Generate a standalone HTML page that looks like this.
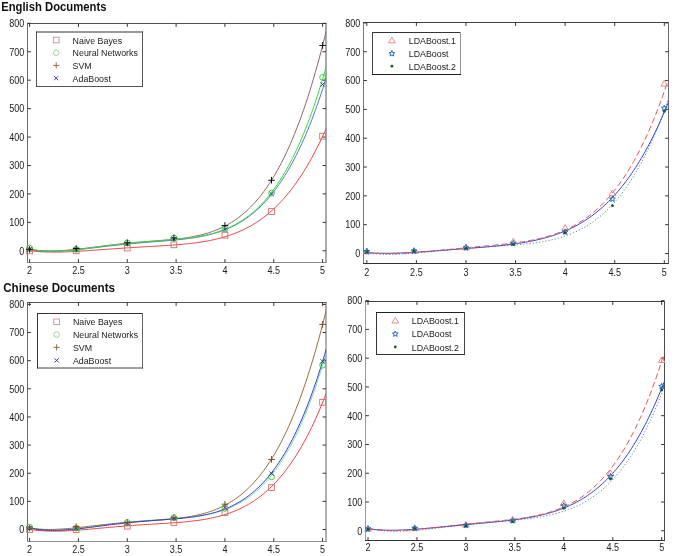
<!DOCTYPE html>
<html><head><meta charset="utf-8"><style>
html,body{margin:0;padding:0;background:#fff;}
svg{display:block;}
text{font-family:"Liberation Sans",sans-serif;}
svg{will-change:transform;}
</style></head><body>
<svg width="685" height="556" viewBox="0 0 685 556" font-family="Liberation Sans, sans-serif" font-size="10.2" fill="#222">
<defs><clipPath id="cTL"><rect x="27.5" y="23.5" width="298.5" height="239"/></clipPath><clipPath id="cTR"><rect x="363.5" y="22.5" width="305" height="241"/></clipPath><clipPath id="cBL"><rect x="27.5" y="302.5" width="298.5" height="239"/></clipPath><clipPath id="cBR"><rect x="365.5" y="301.5" width="299" height="239"/></clipPath></defs>
<rect width="685" height="556" fill="#fff"/>
<path d="M27.5 23V263" stroke="#6a6a6a" stroke-width="1"/>
<path d="M27 23.5H326.5" stroke="#505050" stroke-width="1"/>
<path d="M326 23V263" stroke="#555" stroke-width="1"/>
<path d="M27 262.5H326.5" stroke="#888" stroke-width="1"/>
<path d="M27.5 250.8h3.4M326 250.8h-3.4M27.5 222.36h3.4M326 222.36h-3.4M27.5 193.93h3.4M326 193.93h-3.4M27.5 165.49h3.4M326 165.49h-3.4M27.5 137.05h3.4M326 137.05h-3.4M27.5 108.61h3.4M326 108.61h-3.4M27.5 80.18h3.4M326 80.18h-3.4M27.5 51.74h3.4M326 51.74h-3.4M27.5 23.3h3.4M326 23.3h-3.4M29.6 262.5v-3.4M29.6 23.5v3.4M78.43 262.5v-3.4M78.43 23.5v3.4M127.27 262.5v-3.4M127.27 23.5v3.4M176.1 262.5v-3.4M176.1 23.5v3.4M224.93 262.5v-3.4M224.93 23.5v3.4M273.77 262.5v-3.4M273.77 23.5v3.4M322.6 262.5v-3.4M322.6 23.5v3.4" stroke="#333" stroke-width="1" fill="none"/>
<text transform="translate(24.2 254.6) scale(0.885 1)" font-size="10.2" text-anchor="end">0</text>
<text transform="translate(24.2 226.16) scale(0.885 1)" font-size="10.2" text-anchor="end">100</text>
<text transform="translate(24.2 197.73) scale(0.885 1)" font-size="10.2" text-anchor="end">200</text>
<text transform="translate(24.2 169.29) scale(0.885 1)" font-size="10.2" text-anchor="end">300</text>
<text transform="translate(24.2 140.85) scale(0.885 1)" font-size="10.2" text-anchor="end">400</text>
<text transform="translate(24.2 112.41) scale(0.885 1)" font-size="10.2" text-anchor="end">500</text>
<text transform="translate(24.2 83.98) scale(0.885 1)" font-size="10.2" text-anchor="end">600</text>
<text transform="translate(24.2 55.54) scale(0.885 1)" font-size="10.2" text-anchor="end">700</text>
<text transform="translate(24.2 27.1) scale(0.885 1)" font-size="10.2" text-anchor="end">800</text>
<text transform="translate(29.6 273.6) scale(0.885 1)" font-size="10.2" text-anchor="middle">2</text>
<text transform="translate(78.43 273.6) scale(0.885 1)" font-size="10.2" text-anchor="middle">2.5</text>
<text transform="translate(127.27 273.6) scale(0.885 1)" font-size="10.2" text-anchor="middle">3</text>
<text transform="translate(176.1 273.6) scale(0.885 1)" font-size="10.2" text-anchor="middle">3.5</text>
<text transform="translate(224.93 273.6) scale(0.885 1)" font-size="10.2" text-anchor="middle">4</text>
<text transform="translate(273.77 273.6) scale(0.885 1)" font-size="10.2" text-anchor="middle">4.5</text>
<text transform="translate(322.6 273.6) scale(0.885 1)" font-size="10.2" text-anchor="middle">5</text>
<polyline points="29.6,250.67 31.5,250.91 33.41,251.12 35.31,251.31 37.22,251.47 39.12,251.62 41.03,251.74 42.93,251.84 44.83,251.93 46.74,251.99 48.64,252.04 50.55,252.08 52.45,252.1 54.35,252.1 56.26,252.09 58.16,252.07 60.07,252.04 61.97,251.99 63.88,251.94 65.78,251.87 67.68,251.8 69.59,251.72 71.49,251.63 73.4,251.53 75.3,251.43 77.2,251.32 79.11,251.21 81.01,251.09 82.92,250.97 84.82,250.84 86.73,250.72 88.63,250.58 90.53,250.45 92.44,250.31 94.34,250.18 96.25,250.04 98.15,249.9 100.06,249.76 101.96,249.62 103.86,249.48 105.77,249.34 107.67,249.21 109.58,249.07 111.48,248.93 113.38,248.8 115.29,248.66 117.19,248.53 119.1,248.4 121,248.27 122.91,248.15 124.81,248.02 126.71,247.9 128.62,247.78 130.52,247.65 132.43,247.54 134.33,247.42 136.23,247.3 138.14,247.19 140.04,247.08 141.95,246.96 143.85,246.85 145.76,246.74 147.66,246.63 149.56,246.52 151.47,246.41 153.37,246.3 155.28,246.19 157.18,246.08 159.09,245.96 160.99,245.85 162.89,245.73 164.8,245.61 166.7,245.49 168.61,245.36 170.51,245.23 172.41,245.09 174.32,244.95 176.22,244.8 178.13,244.65 180.03,244.48 181.94,244.32 183.84,244.14 185.74,243.95 187.65,243.76 189.55,243.55 191.46,243.33 193.36,243.1 195.26,242.86 197.17,242.61 199.07,242.34 200.98,242.05 202.88,241.75 204.79,241.43 206.69,241.1 208.59,240.74 210.5,240.37 212.4,239.97 214.31,239.55 216.21,239.11 218.12,238.65 220.02,238.16 221.92,237.65 223.83,237.1 225.73,236.53 227.64,235.93 229.54,235.3 231.44,234.64 233.35,233.94 235.25,233.21 237.16,232.44 239.06,231.64 240.97,230.79 242.87,229.91 244.77,228.99 246.68,228.02 248.58,227.01 250.49,225.96 252.39,224.86 254.29,223.71 256.2,222.51 258.1,221.26 260.01,219.95 261.91,218.59 263.82,217.18 265.72,215.71 267.62,214.18 269.53,212.58 271.43,210.93 273.34,209.21 275.24,207.42 277.15,205.57 279.05,203.65 280.95,201.65 282.86,199.59 284.76,197.44 286.67,195.23 288.57,192.93 290.47,190.55 292.38,188.09 294.28,185.54 296.19,182.91 298.09,180.19 300,177.38 301.9,174.47 303.8,171.48 305.71,168.38 307.61,165.19 309.52,161.89 311.42,158.5 313.32,154.99 315.23,151.38 317.13,147.66 319.04,143.83 320.94,139.88 322.85,135.82 324.75,131.64 326.65,127.34 328.56,122.91 330.46,118.36 332.37,113.68" fill="none" stroke="#e44444" stroke-width="1" clip-path="url(#cTL)"/>
<polyline points="29.6,249.33 31.5,249.66 33.41,249.95 35.31,250.21 37.22,250.42 39.12,250.6 41.03,250.75 42.93,250.87 44.83,250.95 46.74,251.01 48.64,251.04 50.55,251.04 52.45,251.02 54.35,250.98 56.26,250.91 58.16,250.83 60.07,250.73 61.97,250.61 63.88,250.47 65.78,250.33 67.68,250.16 69.59,249.99 71.49,249.81 73.4,249.61 75.3,249.41 77.2,249.2 79.11,248.98 81.01,248.76 82.92,248.53 84.82,248.3 86.73,248.06 88.63,247.82 90.53,247.58 92.44,247.34 94.34,247.1 96.25,246.86 98.15,246.62 100.06,246.38 101.96,246.15 103.86,245.91 105.77,245.68 107.67,245.45 109.58,245.22 111.48,245 113.38,244.79 115.29,244.57 117.19,244.36 119.1,244.16 121,243.96 122.91,243.76 124.81,243.57 126.71,243.39 128.62,243.2 130.52,243.03 132.43,242.85 134.33,242.68 136.23,242.52 138.14,242.36 140.04,242.2 141.95,242.04 143.85,241.89 145.76,241.74 147.66,241.59 149.56,241.44 151.47,241.3 153.37,241.15 155.28,241 157.18,240.85 159.09,240.7 160.99,240.55 162.89,240.39 164.8,240.23 166.7,240.06 168.61,239.89 170.51,239.71 172.41,239.52 174.32,239.32 176.22,239.11 178.13,238.89 180.03,238.66 181.94,238.42 183.84,238.16 185.74,237.88 187.65,237.59 189.55,237.27 191.46,236.94 193.36,236.59 195.26,236.21 197.17,235.81 199.07,235.38 200.98,234.92 202.88,234.44 204.79,233.92 206.69,233.37 208.59,232.79 210.5,232.17 212.4,231.51 214.31,230.81 216.21,230.07 218.12,229.29 220.02,228.46 221.92,227.58 223.83,226.65 225.73,225.67 227.64,224.64 229.54,223.55 231.44,222.4 233.35,221.19 235.25,219.92 237.16,218.58 239.06,217.17 240.97,215.69 242.87,214.14 244.77,212.52 246.68,210.81 248.58,209.03 250.49,207.16 252.39,205.21 254.29,203.17 256.2,201.04 258.1,198.81 260.01,196.49 261.91,194.06 263.82,191.54 265.72,188.91 267.62,186.17 269.53,183.31 271.43,180.35 273.34,177.26 275.24,174.06 277.15,170.73 279.05,167.27 280.95,163.68 282.86,159.96 284.76,156.1 286.67,152.1 288.57,147.95 290.47,143.66 292.38,139.22 294.28,134.62 296.19,129.87 298.09,124.95 300,119.86 301.9,114.61 303.8,109.18 305.71,103.58 307.61,97.8 309.52,91.83 311.42,85.67 313.32,79.32 315.23,72.77 317.13,66.03 319.04,59.08 320.94,51.92 322.85,44.54 324.75,36.95 326.65,29.14 328.56,21.11 330.46,12.84 332.37,4.34" fill="none" stroke="#986262" stroke-width="1" clip-path="url(#cTL)"/>
<polyline points="29.6,249.35 31.5,249.68 33.41,249.98 35.31,250.24 37.22,250.46 39.12,250.65 41.03,250.81 42.93,250.94 44.83,251.04 46.74,251.11 48.64,251.16 50.55,251.18 52.45,251.18 54.35,251.16 56.26,251.12 58.16,251.06 60.07,250.99 61.97,250.89 63.88,250.78 65.78,250.66 67.68,250.52 69.59,250.37 71.49,250.21 73.4,250.04 75.3,249.87 77.2,249.68 79.11,249.48 81.01,249.28 82.92,249.07 84.82,248.86 86.73,248.65 88.63,248.43 90.53,248.2 92.44,247.98 94.34,247.75 96.25,247.52 98.15,247.3 100.06,247.07 101.96,246.84 103.86,246.62 105.77,246.39 107.67,246.17 109.58,245.95 111.48,245.73 113.38,245.52 115.29,245.31 117.19,245.1 119.1,244.9 121,244.69 122.91,244.5 124.81,244.3 126.71,244.11 128.62,243.93 130.52,243.75 132.43,243.57 134.33,243.39 136.23,243.22 138.14,243.06 140.04,242.89 141.95,242.73 143.85,242.57 145.76,242.42 147.66,242.26 149.56,242.11 151.47,241.96 153.37,241.81 155.28,241.67 157.18,241.52 159.09,241.37 160.99,241.22 162.89,241.07 164.8,240.92 166.7,240.76 168.61,240.6 170.51,240.44 172.41,240.27 174.32,240.1 176.22,239.91 178.13,239.73 180.03,239.53 181.94,239.32 183.84,239.11 185.74,238.88 187.65,238.64 189.55,238.39 191.46,238.12 193.36,237.84 195.26,237.54 197.17,237.22 199.07,236.89 200.98,236.53 202.88,236.15 204.79,235.75 206.69,235.33 208.59,234.88 210.5,234.4 212.4,233.9 214.31,233.36 216.21,232.79 218.12,232.19 220.02,231.56 221.92,230.89 223.83,230.18 225.73,229.43 227.64,228.64 229.54,227.8 231.44,226.93 233.35,226 235.25,225.03 237.16,224 239.06,222.93 240.97,221.8 242.87,220.61 244.77,219.36 246.68,218.06 248.58,216.69 250.49,215.25 252.39,213.75 254.29,212.19 256.2,210.55 258.1,208.83 260.01,207.04 261.91,205.18 263.82,203.23 265.72,201.2 267.62,199.08 269.53,196.88 271.43,194.58 273.34,192.2 275.24,189.72 277.15,187.14 279.05,184.46 280.95,181.67 282.86,178.78 284.76,175.78 286.67,172.68 288.57,169.45 290.47,166.11 292.38,162.65 294.28,159.07 296.19,155.36 298.09,151.52 300,147.55 301.9,143.45 303.8,139.21 305.71,134.83 307.61,130.3 309.52,125.63 311.42,120.81 313.32,115.83 315.23,110.7 317.13,105.4 319.04,99.95 320.94,94.32 322.85,88.53 324.75,82.56 326.65,76.42 328.56,70.09 330.46,63.58 332.37,56.89" fill="none" stroke="#4c7cbc" stroke-width="1" clip-path="url(#cTL)"/>
<polyline points="29.6,249.01 31.5,249.4 33.41,249.75 35.31,250.06 37.22,250.32 39.12,250.55 41.03,250.74 42.93,250.9 44.83,251.02 46.74,251.12 48.64,251.18 50.55,251.21 52.45,251.22 54.35,251.21 56.26,251.17 58.16,251.11 60.07,251.02 61.97,250.92 63.88,250.8 65.78,250.67 67.68,250.52 69.59,250.35 71.49,250.17 73.4,249.98 75.3,249.78 77.2,249.57 79.11,249.35 81.01,249.13 82.92,248.89 84.82,248.66 86.73,248.41 88.63,248.17 90.53,247.92 92.44,247.66 94.34,247.41 96.25,247.16 98.15,246.9 100.06,246.65 101.96,246.39 103.86,246.14 105.77,245.89 107.67,245.64 109.58,245.4 111.48,245.15 113.38,244.92 115.29,244.68 117.19,244.45 119.1,244.23 121,244.01 122.91,243.79 124.81,243.58 126.71,243.38 128.62,243.18 130.52,242.98 132.43,242.79 134.33,242.6 136.23,242.42 138.14,242.25 140.04,242.08 141.95,241.91 143.85,241.75 145.76,241.59 147.66,241.44 149.56,241.29 151.47,241.14 153.37,240.99 155.28,240.85 157.18,240.7 159.09,240.56 160.99,240.42 162.89,240.28 164.8,240.13 166.7,239.99 168.61,239.84 170.51,239.69 172.41,239.53 174.32,239.37 176.22,239.21 178.13,239.03 180.03,238.85 181.94,238.66 183.84,238.46 185.74,238.25 187.65,238.03 189.55,237.8 191.46,237.55 193.36,237.28 195.26,237 197.17,236.7 199.07,236.38 200.98,236.04 202.88,235.67 204.79,235.29 206.69,234.87 208.59,234.43 210.5,233.97 212.4,233.47 214.31,232.94 216.21,232.38 218.12,231.78 220.02,231.14 221.92,230.47 223.83,229.76 225.73,229 227.64,228.2 229.54,227.35 231.44,226.46 233.35,225.51 235.25,224.51 237.16,223.46 239.06,222.35 240.97,221.19 242.87,219.96 244.77,218.67 246.68,217.31 248.58,215.88 250.49,214.39 252.39,212.82 254.29,211.18 256.2,209.46 258.1,207.65 260.01,205.77 261.91,203.8 263.82,201.75 265.72,199.6 267.62,197.36 269.53,195.02 271.43,192.59 273.34,190.05 275.24,187.41 277.15,184.66 279.05,181.8 280.95,178.83 282.86,175.74 284.76,172.54 286.67,169.2 288.57,165.75 290.47,162.16 292.38,158.45 294.28,154.6 296.19,150.61 298.09,146.48 300,142.2 301.9,137.77 303.8,133.2 305.71,128.46 307.61,123.57 309.52,118.52 311.42,113.3 313.32,107.91 315.23,102.35 317.13,96.61 319.04,90.69 320.94,84.58 322.85,78.29 324.75,71.81 326.65,65.12 328.56,58.24 330.46,51.16 332.37,43.87" fill="none" stroke="#3ad83a" stroke-width="1" clip-path="url(#cTL)"/>
<rect x="26.7" y="247.9" width="5.8" height="5.8" fill="none" stroke="#d86c6c" stroke-width="0.9"/>
<rect x="73.3" y="247.9" width="5.8" height="5.8" fill="none" stroke="#d86c6c" stroke-width="0.9"/>
<rect x="124.37" y="245.06" width="5.8" height="5.8" fill="none" stroke="#d86c6c" stroke-width="0.9"/>
<rect x="170.97" y="241.93" width="5.8" height="5.8" fill="none" stroke="#d86c6c" stroke-width="0.9"/>
<rect x="222.03" y="232.26" width="5.8" height="5.8" fill="none" stroke="#d86c6c" stroke-width="0.9"/>
<rect x="268.63" y="208.66" width="5.8" height="5.8" fill="none" stroke="#d86c6c" stroke-width="0.9"/>
<rect x="319.7" y="133.3" width="5.8" height="5.8" fill="none" stroke="#d86c6c" stroke-width="0.9"/>
<path d="M27.5 247.28L31.7 251.48M27.5 251.48L31.7 247.28" stroke="#2a2ab0" stroke-width="0.9"/>
<path d="M74.1 247.28L78.3 251.48M74.1 251.48L78.3 247.28" stroke="#2a2ab0" stroke-width="0.9"/>
<path d="M125.17 241.59L129.37 245.79M125.17 245.79L129.37 241.59" stroke="#2a2ab0" stroke-width="0.9"/>
<path d="M171.77 236.76L175.97 240.96M171.77 240.96L175.97 236.76" stroke="#2a2ab0" stroke-width="0.9"/>
<path d="M222.83 227.37L227.03 231.57M222.83 231.57L227.03 227.37" stroke="#2a2ab0" stroke-width="0.9"/>
<path d="M269.43 191.83L273.63 196.03M269.43 196.03L273.63 191.83" stroke="#2a2ab0" stroke-width="0.9"/>
<path d="M320.5 82.34L324.7 86.54M320.5 86.54L324.7 82.34" stroke="#2a2ab0" stroke-width="0.9"/>
<circle cx="29.6" cy="247.96" r="2.9" fill="none" stroke="#2ec82e" stroke-width="0.9"/>
<circle cx="76.2" cy="249.38" r="2.9" fill="none" stroke="#2ec82e" stroke-width="0.9"/>
<circle cx="127.27" cy="242.84" r="2.9" fill="none" stroke="#2ec82e" stroke-width="0.9"/>
<circle cx="173.87" cy="238" r="2.9" fill="none" stroke="#2ec82e" stroke-width="0.9"/>
<circle cx="224.93" cy="228.62" r="2.9" fill="none" stroke="#2ec82e" stroke-width="0.9"/>
<circle cx="271.53" cy="193.07" r="2.9" fill="none" stroke="#2ec82e" stroke-width="0.9"/>
<circle cx="322.6" cy="77.33" r="2.9" fill="none" stroke="#2ec82e" stroke-width="0.9"/>
<path d="M26.3 249.38h6.6M29.6 246.08v6.6" stroke="#111" stroke-width="1.0"/>
<path d="M72.9 248.53h6.6M76.2 245.22v6.6" stroke="#111" stroke-width="1.0"/>
<path d="M123.97 242.84h6.6M127.27 239.54v6.6" stroke="#111" stroke-width="1.0"/>
<path d="M170.57 238h6.6M173.87 234.7v6.6" stroke="#111" stroke-width="1.0"/>
<path d="M221.63 225.49h6.6M224.93 222.19v6.6" stroke="#111" stroke-width="1.0"/>
<path d="M268.23 180.28h6.6M271.53 176.97v6.6" stroke="#111" stroke-width="1.0"/>
<path d="M319.3 45.48h6.6M322.6 42.18v6.6" stroke="#111" stroke-width="1.0"/>
<rect x="36.5" y="32" width="106" height="54.5" fill="#fff"/>
<path d="M36.5 31.5V87" stroke="#555" stroke-width="1"/>
<path d="M36 32H143" stroke="#333" stroke-width="1"/>
<path d="M142.5 31.5V87" stroke="#555" stroke-width="1"/>
<path d="M36 86.5H143" stroke="#555" stroke-width="1"/>
<rect x="53.4" y="37.2" width="5.6" height="5.6" fill="none" stroke="#cc8c96" stroke-width="0.9"/>
<text transform="translate(72.6 43.6) scale(0.94 1)" font-size="9.4">Naive Bayes</text>
<circle cx="56.2" cy="52.8" r="2.8" fill="none" stroke="#8fd08f" stroke-width="0.9"/>
<text transform="translate(72.6 56.4) scale(0.94 1)" font-size="9.4">Neural Networks</text>
<path d="M53.1 65.4h6.2M56.2 62.3v6.2" stroke="#8a7252" stroke-width="1.0"/>
<text transform="translate(72.6 69) scale(0.94 1)" font-size="9.4">SVM</text>
<path d="M54.2 76.2L58.2 80.2M54.2 80.2L58.2 76.2" stroke="#3434a8" stroke-width="1.0"/>
<text transform="translate(72.6 81.8) scale(0.94 1)" font-size="9.4">AdaBoost</text>
<path d="M27.5 302V542" stroke="#6a6a6a" stroke-width="1"/>
<path d="M27 302.5H326.5" stroke="#555" stroke-width="1"/>
<path d="M326 302V542" stroke="#616161" stroke-width="1"/>
<path d="M27 541.5H326.5" stroke="#909090" stroke-width="1"/>
<path d="M27.5 529.5h3.4M326 529.5h-3.4M27.5 501.36h3.4M326 501.36h-3.4M27.5 473.23h3.4M326 473.23h-3.4M27.5 445.09h3.4M326 445.09h-3.4M27.5 416.95h3.4M326 416.95h-3.4M27.5 388.81h3.4M326 388.81h-3.4M27.5 360.68h3.4M326 360.68h-3.4M27.5 332.54h3.4M326 332.54h-3.4M27.5 304.4h3.4M326 304.4h-3.4M29.6 541.5v-3.4M29.6 302.5v3.4M78.43 541.5v-3.4M78.43 302.5v3.4M127.27 541.5v-3.4M127.27 302.5v3.4M176.1 541.5v-3.4M176.1 302.5v3.4M224.93 541.5v-3.4M224.93 302.5v3.4M273.77 541.5v-3.4M273.77 302.5v3.4M322.6 541.5v-3.4M322.6 302.5v3.4" stroke="#333" stroke-width="1" fill="none"/>
<text transform="translate(24.2 533.3) scale(0.885 1)" font-size="10.2" text-anchor="end">0</text>
<text transform="translate(24.2 505.16) scale(0.885 1)" font-size="10.2" text-anchor="end">100</text>
<text transform="translate(24.2 477.03) scale(0.885 1)" font-size="10.2" text-anchor="end">200</text>
<text transform="translate(24.2 448.89) scale(0.885 1)" font-size="10.2" text-anchor="end">300</text>
<text transform="translate(24.2 420.75) scale(0.885 1)" font-size="10.2" text-anchor="end">400</text>
<text transform="translate(24.2 392.61) scale(0.885 1)" font-size="10.2" text-anchor="end">500</text>
<text transform="translate(24.2 364.48) scale(0.885 1)" font-size="10.2" text-anchor="end">600</text>
<text transform="translate(24.2 336.34) scale(0.885 1)" font-size="10.2" text-anchor="end">700</text>
<text transform="translate(24.2 308.2) scale(0.885 1)" font-size="10.2" text-anchor="end">800</text>
<text transform="translate(29.6 552.5) scale(0.885 1)" font-size="10.2" text-anchor="middle">2</text>
<text transform="translate(78.43 552.5) scale(0.885 1)" font-size="10.2" text-anchor="middle">2.5</text>
<text transform="translate(127.27 552.5) scale(0.885 1)" font-size="10.2" text-anchor="middle">3</text>
<text transform="translate(176.1 552.5) scale(0.885 1)" font-size="10.2" text-anchor="middle">3.5</text>
<text transform="translate(224.93 552.5) scale(0.885 1)" font-size="10.2" text-anchor="middle">4</text>
<text transform="translate(273.77 552.5) scale(0.885 1)" font-size="10.2" text-anchor="middle">4.5</text>
<text transform="translate(322.6 552.5) scale(0.885 1)" font-size="10.2" text-anchor="middle">5</text>
<polyline points="29.6,527.64 31.5,528.1 33.41,528.51 35.31,528.87 37.22,529.19 39.12,529.46 41.03,529.7 42.93,529.9 44.83,530.06 46.74,530.19 48.64,530.29 50.55,530.35 52.45,530.39 54.35,530.4 56.26,530.38 58.16,530.33 60.07,530.27 61.97,530.18 63.88,530.07 65.78,529.95 67.68,529.8 69.59,529.64 71.49,529.47 73.4,529.28 75.3,529.08 77.2,528.87 79.11,528.65 81.01,528.42 82.92,528.19 84.82,527.94 86.73,527.69 88.63,527.44 90.53,527.18 92.44,526.92 94.34,526.65 96.25,526.39 98.15,526.12 100.06,525.86 101.96,525.59 103.86,525.33 105.77,525.06 107.67,524.8 109.58,524.55 111.48,524.29 113.38,524.04 115.29,523.8 117.19,523.56 119.1,523.32 121,523.09 122.91,522.86 124.81,522.64 126.71,522.43 128.62,522.22 130.52,522.01 132.43,521.82 134.33,521.63 136.23,521.44 138.14,521.26 140.04,521.09 141.95,520.92 143.85,520.75 145.76,520.59 147.66,520.44 149.56,520.29 151.47,520.15 153.37,520 155.28,519.87 157.18,519.73 159.09,519.6 160.99,519.46 162.89,519.33 164.8,519.2 166.7,519.07 168.61,518.94 170.51,518.81 172.41,518.67 174.32,518.53 176.22,518.39 178.13,518.24 180.03,518.09 181.94,517.93 183.84,517.76 185.74,517.58 187.65,517.4 189.55,517.2 191.46,516.98 193.36,516.76 195.26,516.52 197.17,516.26 199.07,515.99 200.98,515.69 202.88,515.38 204.79,515.05 206.69,514.69 208.59,514.3 210.5,513.89 212.4,513.46 214.31,512.99 216.21,512.49 218.12,511.96 220.02,511.39 221.92,510.79 223.83,510.14 225.73,509.46 227.64,508.74 229.54,507.97 231.44,507.15 233.35,506.29 235.25,505.37 237.16,504.41 239.06,503.39 240.97,502.31 242.87,501.17 244.77,499.97 246.68,498.71 248.58,497.38 250.49,495.98 252.39,494.52 254.29,492.97 256.2,491.36 258.1,489.66 260.01,487.89 261.91,486.03 263.82,484.08 265.72,482.04 267.62,479.92 269.53,477.69 271.43,475.37 273.34,472.95 275.24,470.43 277.15,467.8 279.05,465.07 280.95,462.22 282.86,459.25 284.76,456.17 286.67,452.96 288.57,449.63 290.47,446.18 292.38,442.59 294.28,438.86 296.19,435 298.09,431 300,426.86 301.9,422.56 303.8,418.12 305.71,413.52 307.61,408.76 309.52,403.84 311.42,398.75 313.32,393.5 315.23,388.07 317.13,382.46 319.04,376.68 320.94,370.71 322.85,364.55 324.75,358.2 326.65,351.65 328.56,344.9 330.46,337.95 332.37,330.78" fill="none" stroke="#80e0b8" stroke-width="1" clip-path="url(#cBL)"/>
<polyline points="29.6,529.32 31.5,529.62 33.41,529.9 35.31,530.14 37.22,530.35 39.12,530.54 41.03,530.7 42.93,530.83 44.83,530.94 46.74,531.03 48.64,531.09 50.55,531.14 52.45,531.16 54.35,531.17 56.26,531.16 58.16,531.13 60.07,531.09 61.97,531.04 63.88,530.97 65.78,530.89 67.68,530.79 69.59,530.69 71.49,530.58 73.4,530.46 75.3,530.33 77.2,530.19 79.11,530.04 81.01,529.89 82.92,529.74 84.82,529.58 86.73,529.42 88.63,529.25 90.53,529.08 92.44,528.91 94.34,528.73 96.25,528.56 98.15,528.38 100.06,528.21 101.96,528.03 103.86,527.86 105.77,527.68 107.67,527.51 109.58,527.34 111.48,527.17 113.38,527 115.29,526.83 117.19,526.67 119.1,526.51 121,526.35 122.91,526.19 124.81,526.04 126.71,525.89 128.62,525.75 130.52,525.6 132.43,525.46 134.33,525.33 136.23,525.19 138.14,525.06 140.04,524.93 141.95,524.8 143.85,524.68 145.76,524.56 147.66,524.44 149.56,524.32 151.47,524.2 153.37,524.08 155.28,523.97 157.18,523.85 159.09,523.73 160.99,523.62 162.89,523.5 164.8,523.38 166.7,523.26 168.61,523.13 170.51,523 172.41,522.87 174.32,522.74 176.22,522.59 178.13,522.45 180.03,522.29 181.94,522.13 183.84,521.96 185.74,521.79 187.65,521.6 189.55,521.4 191.46,521.19 193.36,520.97 195.26,520.74 197.17,520.49 199.07,520.23 200.98,519.95 202.88,519.65 204.79,519.34 206.69,519.01 208.59,518.65 210.5,518.28 212.4,517.88 214.31,517.46 216.21,517.01 218.12,516.54 220.02,516.04 221.92,515.51 223.83,514.95 225.73,514.36 227.64,513.73 229.54,513.07 231.44,512.38 233.35,511.65 235.25,510.88 237.16,510.07 239.06,509.21 240.97,508.32 242.87,507.38 244.77,506.39 246.68,505.35 248.58,504.27 250.49,503.13 252.39,501.94 254.29,500.69 256.2,499.39 258.1,498.03 260.01,496.61 261.91,495.12 263.82,493.57 265.72,491.95 267.62,490.27 269.53,488.52 271.43,486.69 273.34,484.79 275.24,482.81 277.15,480.75 279.05,478.62 280.95,476.4 282.86,474.09 284.76,471.7 286.67,469.22 288.57,466.65 290.47,463.98 292.38,461.22 294.28,458.35 296.19,455.39 298.09,452.32 300,449.15 301.9,445.87 303.8,442.48 305.71,438.98 307.61,435.36 309.52,431.62 311.42,427.76 313.32,423.78 315.23,419.67 317.13,415.44 319.04,411.07 320.94,406.57 322.85,401.93 324.75,397.15 326.65,392.23 328.56,387.16 330.46,381.94 332.37,376.58" fill="none" stroke="#e44444" stroke-width="1" clip-path="url(#cBL)"/>
<polyline points="29.6,527.96 31.5,528.26 33.41,528.52 35.31,528.74 37.22,528.94 39.12,529.09 41.03,529.22 42.93,529.32 44.83,529.39 46.74,529.43 48.64,529.45 50.55,529.45 52.45,529.42 54.35,529.37 56.26,529.31 58.16,529.22 60.07,529.12 61.97,529.01 63.88,528.87 65.78,528.73 67.68,528.58 69.59,528.41 71.49,528.24 73.4,528.05 75.3,527.86 77.2,527.66 79.11,527.46 81.01,527.25 82.92,527.04 84.82,526.83 86.73,526.61 88.63,526.39 90.53,526.17 92.44,525.95 94.34,525.72 96.25,525.5 98.15,525.28 100.06,525.07 101.96,524.85 103.86,524.64 105.77,524.43 107.67,524.22 109.58,524.02 111.48,523.82 113.38,523.62 115.29,523.43 117.19,523.24 119.1,523.06 121,522.88 122.91,522.7 124.81,522.53 126.71,522.37 128.62,522.21 130.52,522.05 132.43,521.89 134.33,521.74 136.23,521.6 138.14,521.45 140.04,521.31 141.95,521.17 143.85,521.04 145.76,520.9 147.66,520.77 149.56,520.64 151.47,520.5 153.37,520.37 155.28,520.23 157.18,520.09 159.09,519.95 160.99,519.81 162.89,519.66 164.8,519.51 166.7,519.35 168.61,519.18 170.51,519.01 172.41,518.83 174.32,518.63 176.22,518.43 178.13,518.21 180.03,517.98 181.94,517.74 183.84,517.48 185.74,517.2 187.65,516.91 189.55,516.6 191.46,516.26 193.36,515.9 195.26,515.52 197.17,515.11 199.07,514.68 200.98,514.22 202.88,513.73 204.79,513.2 206.69,512.64 208.59,512.05 210.5,511.42 212.4,510.75 214.31,510.04 216.21,509.29 218.12,508.5 220.02,507.66 221.92,506.76 223.83,505.82 225.73,504.83 227.64,503.78 229.54,502.68 231.44,501.51 233.35,500.29 235.25,499 237.16,497.65 239.06,496.22 240.97,494.73 242.87,493.16 244.77,491.52 246.68,489.8 248.58,488 250.49,486.12 252.39,484.15 254.29,482.09 256.2,479.95 258.1,477.7 260.01,475.36 261.91,472.93 263.82,470.39 265.72,467.74 267.62,464.99 269.53,462.12 271.43,459.14 273.34,456.05 275.24,452.83 277.15,449.49 279.05,446.03 280.95,442.43 282.86,438.7 284.76,434.84 286.67,430.83 288.57,426.69 290.47,422.39 292.38,417.95 294.28,413.35 296.19,408.6 298.09,403.68 300,398.61 301.9,393.36 303.8,387.94 305.71,382.35 307.61,376.58 309.52,370.63 311.42,364.49 313.32,358.16 315.23,351.64 317.13,344.92 319.04,338 320.94,330.87 322.85,323.53 324.75,315.97 326.65,308.2 328.56,300.21 330.46,291.99 332.37,283.54" fill="none" stroke="#9a6a3a" stroke-width="1" clip-path="url(#cBL)"/>
<polyline points="29.6,527.92 31.5,528.33 33.41,528.7 35.31,529.02 37.22,529.31 39.12,529.55 41.03,529.76 42.93,529.94 44.83,530.08 46.74,530.19 48.64,530.27 50.55,530.32 52.45,530.35 54.35,530.35 56.26,530.33 58.16,530.28 60.07,530.21 61.97,530.13 63.88,530.02 65.78,529.9 67.68,529.77 69.59,529.61 71.49,529.45 73.4,529.27 75.3,529.09 77.2,528.89 79.11,528.68 81.01,528.47 82.92,528.25 84.82,528.02 86.73,527.79 88.63,527.56 90.53,527.32 92.44,527.08 94.34,526.83 96.25,526.59 98.15,526.34 100.06,526.09 101.96,525.85 103.86,525.61 105.77,525.36 107.67,525.12 109.58,524.89 111.48,524.65 113.38,524.42 115.29,524.19 117.19,523.97 119.1,523.75 121,523.53 122.91,523.32 124.81,523.12 126.71,522.91 128.62,522.72 130.52,522.53 132.43,522.34 134.33,522.16 136.23,521.98 138.14,521.81 140.04,521.64 141.95,521.48 143.85,521.32 145.76,521.16 147.66,521.01 149.56,520.86 151.47,520.71 153.37,520.57 155.28,520.42 157.18,520.28 159.09,520.14 160.99,520 162.89,519.86 164.8,519.71 166.7,519.57 168.61,519.42 170.51,519.27 172.41,519.12 174.32,518.96 176.22,518.79 178.13,518.62 180.03,518.44 181.94,518.25 183.84,518.06 185.74,517.85 187.65,517.63 189.55,517.39 191.46,517.15 193.36,516.88 195.26,516.61 197.17,516.31 199.07,515.99 200.98,515.66 202.88,515.3 204.79,514.91 206.69,514.51 208.59,514.07 210.5,513.61 212.4,513.12 214.31,512.6 216.21,512.05 218.12,511.46 220.02,510.83 221.92,510.17 223.83,509.47 225.73,508.72 227.64,507.93 229.54,507.1 231.44,506.22 233.35,505.29 235.25,504.31 237.16,503.27 239.06,502.18 240.97,501.03 242.87,499.83 244.77,498.56 246.68,497.22 248.58,495.82 250.49,494.35 252.39,492.81 254.29,491.19 256.2,489.5 258.1,487.73 260.01,485.88 261.91,483.95 263.82,481.93 265.72,479.82 267.62,477.61 269.53,475.32 271.43,472.93 273.34,470.43 275.24,467.84 277.15,465.14 279.05,462.33 280.95,459.41 282.86,456.37 284.76,453.22 286.67,449.95 288.57,446.55 290.47,443.03 292.38,439.37 294.28,435.59 296.19,431.67 298.09,427.61 300,423.4 301.9,419.06 303.8,414.56 305.71,409.91 307.61,405.1 309.52,400.13 311.42,395 313.32,389.7 315.23,384.24 317.13,378.6 319.04,372.78 320.94,366.78 322.85,360.59 324.75,354.22 326.65,347.65 328.56,340.88 330.46,333.92 332.37,326.75" fill="none" stroke="#3040c0" stroke-width="1" clip-path="url(#cBL)"/>
<rect x="26.7" y="526.6" width="5.8" height="5.8" fill="none" stroke="#d86c6c" stroke-width="0.9"/>
<rect x="73.3" y="526.6" width="5.8" height="5.8" fill="none" stroke="#d86c6c" stroke-width="0.9"/>
<rect x="124.37" y="523.22" width="5.8" height="5.8" fill="none" stroke="#d86c6c" stroke-width="0.9"/>
<rect x="170.97" y="519.57" width="5.8" height="5.8" fill="none" stroke="#d86c6c" stroke-width="0.9"/>
<rect x="222.03" y="509.72" width="5.8" height="5.8" fill="none" stroke="#d86c6c" stroke-width="0.9"/>
<rect x="268.63" y="484.68" width="5.8" height="5.8" fill="none" stroke="#d86c6c" stroke-width="0.9"/>
<rect x="319.7" y="399.42" width="5.8" height="5.8" fill="none" stroke="#d86c6c" stroke-width="0.9"/>
<circle cx="29.6" cy="527.25" r="2.9" fill="none" stroke="#2ec82e" stroke-width="0.9"/>
<circle cx="76.2" cy="528.09" r="2.9" fill="none" stroke="#2ec82e" stroke-width="0.9"/>
<circle cx="127.27" cy="522.47" r="2.9" fill="none" stroke="#2ec82e" stroke-width="0.9"/>
<circle cx="173.87" cy="517.68" r="2.9" fill="none" stroke="#2ec82e" stroke-width="0.9"/>
<circle cx="224.93" cy="508.4" r="2.9" fill="none" stroke="#2ec82e" stroke-width="0.9"/>
<circle cx="271.53" cy="476.88" r="2.9" fill="none" stroke="#2ec82e" stroke-width="0.9"/>
<circle cx="322.6" cy="365.18" r="2.9" fill="none" stroke="#2ec82e" stroke-width="0.9"/>
<path d="M27.5 525.99L31.7 530.19M27.5 530.19L31.7 525.99" stroke="#2a2ab0" stroke-width="0.9"/>
<path d="M74.1 525.99L78.3 530.19M74.1 530.19L78.3 525.99" stroke="#2a2ab0" stroke-width="0.9"/>
<path d="M125.17 521.21L129.37 525.41M125.17 525.41L129.37 521.21" stroke="#2a2ab0" stroke-width="0.9"/>
<path d="M171.77 516.14L175.97 520.35M171.77 520.35L175.97 516.14" stroke="#2a2ab0" stroke-width="0.9"/>
<path d="M222.83 505.45L227.03 509.65M222.83 509.65L227.03 505.45" stroke="#2a2ab0" stroke-width="0.9"/>
<path d="M269.43 471.41L273.63 475.61M269.43 475.61L273.63 471.41" stroke="#2a2ab0" stroke-width="0.9"/>
<path d="M320.5 359.14L324.7 363.34M320.5 363.34L324.7 359.14" stroke="#2a2ab0" stroke-width="0.9"/>
<path d="M26.3 528.09h6.6M29.6 524.79v6.6" stroke="#7a4a1e" stroke-width="1.0"/>
<path d="M72.9 526.69h6.6M76.2 523.39v6.6" stroke="#7a4a1e" stroke-width="1.0"/>
<path d="M123.97 522.47h6.6M127.27 519.17v6.6" stroke="#7a4a1e" stroke-width="1.0"/>
<path d="M170.57 517.68h6.6M173.87 514.38v6.6" stroke="#7a4a1e" stroke-width="1.0"/>
<path d="M221.63 504.18h6.6M224.93 500.88v6.6" stroke="#7a4a1e" stroke-width="1.0"/>
<path d="M268.23 459.44h6.6M271.53 456.14v6.6" stroke="#7a4a1e" stroke-width="1.0"/>
<path d="M319.3 324.38h6.6M322.6 321.08v6.6" stroke="#7a4a1e" stroke-width="1.0"/>
<rect x="37.5" y="313.5" width="105" height="54.5" fill="#fff"/>
<path d="M37.5 313V368.5" stroke="#333" stroke-width="1"/>
<path d="M37 313.5H143" stroke="#333" stroke-width="1"/>
<path d="M142.5 313V368.5" stroke="#666" stroke-width="1"/>
<path d="M37 368H143" stroke="#444" stroke-width="1"/>
<rect x="53.8" y="319" width="5.6" height="5.6" fill="none" stroke="#cc8c96" stroke-width="0.9"/>
<text transform="translate(72.9 325.4) scale(0.94 1)" font-size="9.4">Naive Bayes</text>
<circle cx="56.6" cy="334.6" r="2.8" fill="none" stroke="#8fd08f" stroke-width="0.9"/>
<text transform="translate(72.9 338.2) scale(0.94 1)" font-size="9.4">Neural Networks</text>
<path d="M53.5 347.4h6.2M56.6 344.3v6.2" stroke="#8a7252" stroke-width="1.0"/>
<text transform="translate(72.9 351) scale(0.94 1)" font-size="9.4">SVM</text>
<path d="M54.6 358.4L58.6 362.4M54.6 362.4L58.6 358.4" stroke="#3434a8" stroke-width="1.0"/>
<text transform="translate(72.9 364) scale(0.94 1)" font-size="9.4">AdaBoost</text>
<path d="M363.5 22V264" stroke="#777" stroke-width="1"/>
<path d="M363 22.5H669" stroke="#404040" stroke-width="1"/>
<path d="M668.5 22V264" stroke="#6a6a6a" stroke-width="1"/>
<path d="M363 263.5H669" stroke="#333" stroke-width="1"/>
<path d="M363.5 253.5h3.4M668.5 253.5h-3.4M363.5 224.68h3.4M668.5 224.68h-3.4M363.5 195.85h3.4M668.5 195.85h-3.4M363.5 167.03h3.4M668.5 167.03h-3.4M363.5 138.2h3.4M668.5 138.2h-3.4M363.5 109.38h3.4M668.5 109.38h-3.4M363.5 80.55h3.4M668.5 80.55h-3.4M363.5 51.72h3.4M668.5 51.72h-3.4M363.5 22.9h3.4M668.5 22.9h-3.4M366.8 263.5v-3.4M366.8 22.5v3.4M416.38 263.5v-3.4M416.38 22.5v3.4M465.97 263.5v-3.4M465.97 22.5v3.4M515.55 263.5v-3.4M515.55 22.5v3.4M565.13 263.5v-3.4M565.13 22.5v3.4M614.72 263.5v-3.4M614.72 22.5v3.4M664.3 263.5v-3.4M664.3 22.5v3.4" stroke="#333" stroke-width="1" fill="none"/>
<text transform="translate(360.2 257.3) scale(0.885 1)" font-size="10.2" text-anchor="end">0</text>
<text transform="translate(360.2 228.48) scale(0.885 1)" font-size="10.2" text-anchor="end">100</text>
<text transform="translate(360.2 199.65) scale(0.885 1)" font-size="10.2" text-anchor="end">200</text>
<text transform="translate(360.2 170.83) scale(0.885 1)" font-size="10.2" text-anchor="end">300</text>
<text transform="translate(360.2 142) scale(0.885 1)" font-size="10.2" text-anchor="end">400</text>
<text transform="translate(360.2 113.17) scale(0.885 1)" font-size="10.2" text-anchor="end">500</text>
<text transform="translate(360.2 84.35) scale(0.885 1)" font-size="10.2" text-anchor="end">600</text>
<text transform="translate(360.2 55.52) scale(0.885 1)" font-size="10.2" text-anchor="end">700</text>
<text transform="translate(360.2 26.7) scale(0.885 1)" font-size="10.2" text-anchor="end">800</text>
<text transform="translate(366.8 275.5) scale(0.885 1)" font-size="10.2" text-anchor="middle">2</text>
<text transform="translate(416.38 275.5) scale(0.885 1)" font-size="10.2" text-anchor="middle">2.5</text>
<text transform="translate(465.97 275.5) scale(0.885 1)" font-size="10.2" text-anchor="middle">3</text>
<text transform="translate(515.55 275.5) scale(0.885 1)" font-size="10.2" text-anchor="middle">3.5</text>
<text transform="translate(565.13 275.5) scale(0.885 1)" font-size="10.2" text-anchor="middle">4</text>
<text transform="translate(614.72 275.5) scale(0.885 1)" font-size="10.2" text-anchor="middle">4.5</text>
<text transform="translate(664.3 275.5) scale(0.885 1)" font-size="10.2" text-anchor="middle">5</text>
<polyline points="366.8,252.61 368.73,252.92 370.67,253.2 372.6,253.44 374.53,253.65 376.47,253.84 378.4,253.99 380.33,254.12 382.27,254.22 384.2,254.3 386.13,254.35 388.07,254.38 390,254.39 391.93,254.38 393.87,254.36 395.8,254.31 397.74,254.26 399.67,254.18 401.6,254.09 403.54,253.99 405.47,253.88 407.4,253.75 409.34,253.62 411.27,253.48 413.2,253.33 415.14,253.17 417.07,253 419,252.83 420.94,252.65 422.87,252.47 424.8,252.29 426.74,252.1 428.67,251.91 430.6,251.72 432.54,251.52 434.47,251.33 436.4,251.13 438.34,250.94 440.27,250.74 442.2,250.55 444.14,250.36 446.07,250.17 448,249.98 449.94,249.79 451.87,249.61 453.8,249.43 455.74,249.25 457.67,249.08 459.61,248.9 461.54,248.74 463.47,248.57 465.41,248.41 467.34,248.25 469.27,248.1 471.21,247.95 473.14,247.8 475.07,247.66 477.01,247.52 478.94,247.38 480.87,247.25 482.81,247.11 484.74,246.98 486.67,246.86 488.61,246.73 490.54,246.6 492.47,246.48 494.41,246.36 496.34,246.23 498.27,246.11 500.21,245.99 502.14,245.86 504.07,245.73 506.01,245.6 507.94,245.47 509.87,245.33 511.81,245.19 513.74,245.05 515.67,244.9 517.61,244.74 519.54,244.57 521.48,244.4 523.41,244.21 525.34,244.02 527.28,243.81 529.21,243.6 531.14,243.37 533.08,243.13 535.01,242.87 536.94,242.6 538.88,242.31 540.81,242 542.74,241.67 544.68,241.32 546.61,240.95 548.54,240.56 550.48,240.14 552.41,239.7 554.34,239.22 556.28,238.73 558.21,238.2 560.14,237.64 562.08,237.05 564.01,236.42 565.94,235.76 567.88,235.06 569.81,234.33 571.74,233.55 573.68,232.73 575.61,231.87 577.54,230.96 579.48,230 581.41,229 583.35,227.94 585.28,226.84 587.21,225.68 589.15,224.46 591.08,223.18 593.01,221.85 594.95,220.45 596.88,218.99 598.81,217.46 600.75,215.87 602.68,214.2 604.61,212.46 606.55,210.65 608.48,208.76 610.41,206.8 612.35,204.75 614.28,202.62 616.21,200.4 618.15,198.09 620.08,195.7 622.01,193.21 623.95,190.63 625.88,187.94 627.81,185.16 629.75,182.28 631.68,179.29 633.61,176.19 635.55,172.99 637.48,169.67 639.41,166.23 641.35,162.68 643.28,159 645.22,155.21 647.15,151.28 649.08,147.23 651.02,143.04 652.95,138.72 654.88,134.26 656.82,129.66 658.75,124.92 660.68,120.03 662.62,114.99 664.55,109.79 666.48,104.44 668.42,98.93 670.35,93.26 672.28,87.43 674.22,81.42" fill="none" stroke="#5f8d95" stroke-width="1" stroke-dasharray="1.3 1.9" clip-path="url(#cTR)"/>
<polyline points="366.8,252.65 368.73,252.78 370.67,252.9 372.6,253.01 374.53,253.09 376.47,253.16 378.4,253.21 380.33,253.25 382.27,253.28 384.2,253.29 386.13,253.29 388.07,253.28 390,253.25 391.93,253.22 393.87,253.18 395.8,253.13 397.74,253.07 399.67,253 401.6,252.92 403.54,252.84 405.47,252.75 407.4,252.65 409.34,252.55 411.27,252.44 413.2,252.33 415.14,252.22 417.07,252.1 419,251.98 420.94,251.85 422.87,251.72 424.8,251.59 426.74,251.46 428.67,251.33 430.6,251.19 432.54,251.05 434.47,250.91 436.4,250.77 438.34,250.63 440.27,250.49 442.2,250.35 444.14,250.2 446.07,250.06 448,249.92 449.94,249.77 451.87,249.63 453.8,249.48 455.74,249.34 457.67,249.19 459.61,249.05 461.54,248.9 463.47,248.75 465.41,248.61 467.34,248.46 469.27,248.31 471.21,248.16 473.14,248.01 475.07,247.85 477.01,247.7 478.94,247.54 480.87,247.39 482.81,247.22 484.74,247.06 486.67,246.89 488.61,246.72 490.54,246.55 492.47,246.37 494.41,246.19 496.34,246 498.27,245.8 500.21,245.6 502.14,245.4 504.07,245.19 506.01,244.96 507.94,244.74 509.87,244.5 511.81,244.25 513.74,244 515.67,243.73 517.61,243.45 519.54,243.16 521.48,242.86 523.41,242.55 525.34,242.22 527.28,241.87 529.21,241.52 531.14,241.14 533.08,240.75 535.01,240.34 536.94,239.91 538.88,239.47 540.81,239 542.74,238.51 544.68,238 546.61,237.47 548.54,236.91 550.48,236.33 552.41,235.72 554.34,235.08 556.28,234.42 558.21,233.72 560.14,233 562.08,232.25 564.01,231.46 565.94,230.64 567.88,229.79 569.81,228.9 571.74,227.97 573.68,227 575.61,226 577.54,224.95 579.48,223.86 581.41,222.73 583.35,221.55 585.28,220.33 587.21,219.06 589.15,217.75 591.08,216.38 593.01,214.96 594.95,213.49 596.88,211.96 598.81,210.38 600.75,208.74 602.68,207.04 604.61,205.28 606.55,203.46 608.48,201.57 610.41,199.62 612.35,197.6 614.28,195.52 616.21,193.36 618.15,191.14 620.08,188.84 622.01,186.46 623.95,184.01 625.88,181.48 627.81,178.87 629.75,176.18 631.68,173.4 633.61,170.54 635.55,167.59 637.48,164.55 639.41,161.42 641.35,158.2 643.28,154.88 645.22,151.46 647.15,147.95 649.08,144.33 651.02,140.61 652.95,136.79 654.88,132.85 656.82,128.81 658.75,124.66 660.68,120.4 662.62,116.02 664.55,111.52 666.48,106.9 668.42,102.16 670.35,97.29 672.28,92.3 674.22,87.18" fill="none" stroke="#3444c8" stroke-width="1" clip-path="url(#cTR)"/>
<polyline points="366.8,252.27 368.73,252.53 370.67,252.76 372.6,252.97 374.53,253.15 376.47,253.3 378.4,253.42 380.33,253.53 382.27,253.61 384.2,253.67 386.13,253.71 388.07,253.73 390,253.73 391.93,253.72 393.87,253.69 395.8,253.64 397.74,253.58 399.67,253.51 401.6,253.42 403.54,253.33 405.47,253.22 407.4,253.1 409.34,252.98 411.27,252.84 413.2,252.7 415.14,252.55 417.07,252.4 419,252.24 420.94,252.07 422.87,251.9 424.8,251.72 426.74,251.55 428.67,251.37 430.6,251.18 432.54,251 434.47,250.81 436.4,250.62 438.34,250.43 440.27,250.25 442.2,250.06 444.14,249.87 446.07,249.68 448,249.49 449.94,249.3 451.87,249.11 453.8,248.93 455.74,248.74 457.67,248.56 459.61,248.37 461.54,248.19 463.47,248.01 465.41,247.83 467.34,247.65 469.27,247.47 471.21,247.3 473.14,247.12 475.07,246.95 477.01,246.77 478.94,246.6 480.87,246.42 482.81,246.25 484.74,246.07 486.67,245.89 488.61,245.71 490.54,245.53 492.47,245.35 494.41,245.16 496.34,244.97 498.27,244.78 500.21,244.58 502.14,244.38 504.07,244.18 506.01,243.96 507.94,243.74 509.87,243.52 511.81,243.28 513.74,243.04 515.67,242.78 517.61,242.52 519.54,242.24 521.48,241.96 523.41,241.66 525.34,241.34 527.28,241.01 529.21,240.67 531.14,240.31 533.08,239.93 535.01,239.53 536.94,239.12 538.88,238.68 540.81,238.22 542.74,237.74 544.68,237.23 546.61,236.7 548.54,236.14 550.48,235.55 552.41,234.94 554.34,234.29 556.28,233.61 558.21,232.9 560.14,232.15 562.08,231.37 564.01,230.55 565.94,229.69 567.88,228.79 569.81,227.85 571.74,226.87 573.68,225.84 575.61,224.76 577.54,223.64 579.48,222.46 581.41,221.23 583.35,219.95 585.28,218.62 587.21,217.22 589.15,215.77 591.08,214.26 593.01,212.68 594.95,211.04 596.88,209.34 598.81,207.56 600.75,205.72 602.68,203.8 604.61,201.81 606.55,199.74 608.48,197.59 610.41,195.36 612.35,193.05 614.28,190.66 616.21,188.18 618.15,185.6 620.08,182.94 622.01,180.18 623.95,177.33 625.88,174.38 627.81,171.32 629.75,168.17 631.68,164.9 633.61,161.53 635.55,158.05 637.48,154.46 639.41,150.75 641.35,146.92 643.28,142.97 645.22,138.9 647.15,134.7 649.08,130.37 651.02,125.91 652.95,121.31 654.88,116.58 656.82,111.71 658.75,106.7 660.68,101.54 662.62,96.23 664.55,90.77 666.48,85.16 668.42,79.39 670.35,73.46 672.28,67.37 674.22,61.11" fill="none" stroke="#e65050" stroke-width="1" stroke-dasharray="6 3" clip-path="url(#cTR)"/>
<path d="M366.8 248.25L370.21 253.83L363.39 253.83Z" fill="none" stroke="#e08080" stroke-width="0.9"/>
<path d="M414.11 247.67L417.52 253.25L410.7 253.25Z" fill="none" stroke="#e08080" stroke-width="0.9"/>
<path d="M465.97 244.21L469.38 249.79L462.56 249.79Z" fill="none" stroke="#e08080" stroke-width="0.9"/>
<path d="M513.28 238.16L516.69 243.74L509.87 243.74Z" fill="none" stroke="#e08080" stroke-width="0.9"/>
<path d="M565.13 224.61L568.54 230.19L561.72 230.19Z" fill="none" stroke="#e08080" stroke-width="0.9"/>
<path d="M612.45 190.02L615.86 195.6L609.04 195.6Z" fill="none" stroke="#e08080" stroke-width="0.9"/>
<path d="M664.3 80.49L667.71 86.07L660.89 86.07Z" fill="none" stroke="#e08080" stroke-width="0.9"/>
<polygon points="366.8,248.45 366.03,250.44 363.9,250.55 365.56,251.9 365.01,253.96 366.8,252.8 368.59,253.96 368.04,251.9 369.7,250.55 367.57,250.44" fill="none" stroke="#1a68c0" stroke-width="1.0" stroke-linejoin="miter"/>
<polygon points="414.11,247.87 413.35,249.86 411.22,249.98 412.87,251.32 412.32,253.38 414.11,252.22 415.9,253.38 415.36,251.32 417.01,249.98 414.88,249.86" fill="none" stroke="#1a68c0" stroke-width="1.0" stroke-linejoin="miter"/>
<polygon points="465.97,244.7 465.2,246.69 463.07,246.81 464.73,248.15 464.18,250.21 465.97,249.05 467.76,250.21 467.21,248.15 468.86,246.81 466.73,246.69" fill="none" stroke="#1a68c0" stroke-width="1.0" stroke-linejoin="miter"/>
<polygon points="513.28,240.38 512.51,242.37 510.39,242.48 512.04,243.83 511.49,245.89 513.28,244.73 515.07,245.89 514.52,243.83 516.18,242.48 514.05,242.37" fill="none" stroke="#1a68c0" stroke-width="1.0" stroke-linejoin="miter"/>
<polygon points="565.13,228.85 564.37,230.84 562.24,230.95 563.89,232.3 563.34,234.36 565.13,233.2 566.92,234.36 566.37,232.3 568.03,230.95 565.9,230.84" fill="none" stroke="#1a68c0" stroke-width="1.0" stroke-linejoin="miter"/>
<polygon points="612.45,195.99 611.68,197.98 609.55,198.09 611.21,199.44 610.66,201.5 612.45,200.34 614.24,201.5 613.69,199.44 615.34,198.09 613.21,197.98" fill="none" stroke="#1a68c0" stroke-width="1.0" stroke-linejoin="miter"/>
<polygon points="664.3,105.19 663.53,107.18 661.4,107.29 663.06,108.64 662.51,110.7 664.3,109.54 666.09,110.7 665.54,108.64 667.2,107.29 665.07,107.18" fill="none" stroke="#1a68c0" stroke-width="1.0" stroke-linejoin="miter"/>
<circle cx="366.8" cy="251.77" r="1.4" fill="#145a22"/>
<circle cx="414.11" cy="251.19" r="1.4" fill="#145a22"/>
<circle cx="465.97" cy="248.31" r="1.4" fill="#145a22"/>
<circle cx="513.28" cy="244.28" r="1.4" fill="#145a22"/>
<circle cx="565.13" cy="232.75" r="1.4" fill="#145a22"/>
<circle cx="612.45" cy="205.65" r="1.4" fill="#145a22"/>
<circle cx="664.3" cy="111.39" r="1.4" fill="#145a22"/>
<rect x="372.5" y="32.5" width="88" height="42" fill="#fff"/>
<path d="M372.5 32V75" stroke="#444" stroke-width="1"/>
<path d="M372 32.5H461" stroke="#333" stroke-width="1"/>
<path d="M460.5 32V75" stroke="#999" stroke-width="1"/>
<path d="M372 74.5H461" stroke="#222" stroke-width="1"/>
<path d="M391.9 37.26L395.31 42.84L388.49 42.84Z" fill="none" stroke="#e08080" stroke-width="0.9"/>
<text transform="translate(408.8 43.8) scale(0.94 1)" font-size="9.4">LDABoost.1</text>
<polygon points="391.9,50.55 391.13,52.54 389,52.66 390.66,54 390.11,56.06 391.9,54.9 393.69,56.06 393.14,54 394.8,52.66 392.67,52.54" fill="none" stroke="#1a68c0" stroke-width="1.0" stroke-linejoin="miter"/>
<text transform="translate(408.8 56.9) scale(0.94 1)" font-size="9.4">LDABoost</text>
<circle cx="391.9" cy="66.2" r="1.4" fill="#145a22"/>
<text transform="translate(408.8 69.8) scale(0.94 1)" font-size="9.4">LDABoost.2</text>
<path d="M365.5 301V541" stroke="#999" stroke-width="1"/>
<path d="M365 301.5H665" stroke="#404040" stroke-width="1"/>
<path d="M664.5 301V541" stroke="#4a4a4a" stroke-width="1"/>
<path d="M365 540.5H665" stroke="#333" stroke-width="1"/>
<path d="M365.5 530.8h3.4M664.5 530.8h-3.4M365.5 502.02h3.4M664.5 502.02h-3.4M365.5 473.25h3.4M664.5 473.25h-3.4M365.5 444.47h3.4M664.5 444.47h-3.4M365.5 415.7h3.4M664.5 415.7h-3.4M365.5 386.92h3.4M664.5 386.92h-3.4M365.5 358.15h3.4M664.5 358.15h-3.4M365.5 329.38h3.4M664.5 329.38h-3.4M365.5 300.6h3.4M664.5 300.6h-3.4M368 540.5v-3.4M368 301.5v3.4M416.95 540.5v-3.4M416.95 301.5v3.4M465.9 540.5v-3.4M465.9 301.5v3.4M514.85 540.5v-3.4M514.85 301.5v3.4M563.8 540.5v-3.4M563.8 301.5v3.4M612.75 540.5v-3.4M612.75 301.5v3.4M661.7 540.5v-3.4M661.7 301.5v3.4" stroke="#333" stroke-width="1" fill="none"/>
<text transform="translate(362.2 534.6) scale(0.885 1)" font-size="10.2" text-anchor="end">0</text>
<text transform="translate(362.2 505.82) scale(0.885 1)" font-size="10.2" text-anchor="end">100</text>
<text transform="translate(362.2 477.05) scale(0.885 1)" font-size="10.2" text-anchor="end">200</text>
<text transform="translate(362.2 448.27) scale(0.885 1)" font-size="10.2" text-anchor="end">300</text>
<text transform="translate(362.2 419.5) scale(0.885 1)" font-size="10.2" text-anchor="end">400</text>
<text transform="translate(362.2 390.72) scale(0.885 1)" font-size="10.2" text-anchor="end">500</text>
<text transform="translate(362.2 361.95) scale(0.885 1)" font-size="10.2" text-anchor="end">600</text>
<text transform="translate(362.2 333.18) scale(0.885 1)" font-size="10.2" text-anchor="end">700</text>
<text transform="translate(362.2 304.4) scale(0.885 1)" font-size="10.2" text-anchor="end">800</text>
<text transform="translate(368 550.7) scale(0.885 1)" font-size="10.2" text-anchor="middle">2</text>
<text transform="translate(416.95 550.7) scale(0.885 1)" font-size="10.2" text-anchor="middle">2.5</text>
<text transform="translate(465.9 550.7) scale(0.885 1)" font-size="10.2" text-anchor="middle">3</text>
<text transform="translate(514.85 550.7) scale(0.885 1)" font-size="10.2" text-anchor="middle">3.5</text>
<text transform="translate(563.8 550.7) scale(0.885 1)" font-size="10.2" text-anchor="middle">4</text>
<text transform="translate(612.75 550.7) scale(0.885 1)" font-size="10.2" text-anchor="middle">4.5</text>
<text transform="translate(661.7 550.7) scale(0.885 1)" font-size="10.2" text-anchor="middle">5</text>
<polyline points="368,528.35 369.91,528.79 371.82,529.19 373.73,529.55 375.63,529.87 377.54,530.16 379.45,530.41 381.36,530.63 383.27,530.81 385.18,530.97 387.09,531.09 389,531.19 390.9,531.27 392.81,531.32 394.72,531.34 396.63,531.35 398.54,531.33 400.45,531.29 402.36,531.24 404.27,531.16 406.17,531.08 408.08,530.97 409.99,530.85 411.9,530.72 413.81,530.58 415.72,530.42 417.63,530.26 419.54,530.08 421.44,529.9 423.35,529.71 425.26,529.51 427.17,529.31 429.08,529.1 430.99,528.89 432.9,528.67 434.81,528.45 436.71,528.23 438.62,528 440.53,527.77 442.44,527.55 444.35,527.32 446.26,527.09 448.17,526.86 450.08,526.63 451.98,526.41 453.89,526.18 455.8,525.96 457.71,525.74 459.62,525.52 461.53,525.3 463.44,525.09 465.35,524.87 467.25,524.67 469.16,524.46 471.07,524.26 472.98,524.06 474.89,523.86 476.8,523.67 478.71,523.48 480.62,523.29 482.52,523.11 484.43,522.93 486.34,522.75 488.25,522.57 490.16,522.4 492.07,522.22 493.98,522.05 495.89,521.88 497.79,521.71 499.7,521.54 501.61,521.37 503.52,521.2 505.43,521.03 507.34,520.85 509.25,520.68 511.16,520.5 513.06,520.31 514.97,520.13 516.88,519.94 518.79,519.74 520.7,519.54 522.61,519.33 524.52,519.11 526.43,518.88 528.33,518.64 530.24,518.4 532.15,518.14 534.06,517.87 535.97,517.58 537.88,517.29 539.79,516.97 541.7,516.64 543.6,516.29 545.51,515.93 547.42,515.54 549.33,515.13 551.24,514.7 553.15,514.25 555.06,513.77 556.97,513.26 558.87,512.73 560.78,512.17 562.69,511.58 564.6,510.95 566.51,510.3 568.42,509.6 570.33,508.87 572.24,508.11 574.14,507.3 576.05,506.45 577.96,505.56 579.87,504.62 581.78,503.64 583.69,502.61 585.6,501.53 587.51,500.4 589.41,499.21 591.32,497.97 593.23,496.67 595.14,495.31 597.05,493.89 598.96,492.41 600.87,490.86 602.78,489.24 604.68,487.55 606.59,485.79 608.5,483.96 610.41,482.05 612.32,480.07 614.23,478 616.14,475.85 618.05,473.61 619.95,471.29 621.86,468.88 623.77,466.37 625.68,463.77 627.59,461.07 629.5,458.27 631.41,455.37 633.32,452.37 635.22,449.25 637.13,446.03 639.04,442.69 640.95,439.24 642.86,435.67 644.77,431.98 646.68,428.16 648.59,424.22 650.49,420.15 652.4,415.95 654.31,411.61 656.22,407.13 658.13,402.51 660.04,397.75 661.95,392.84 663.86,387.78 665.76,382.57 667.67,377.2 669.58,371.67 671.49,365.97" fill="none" stroke="#5f8d95" stroke-width="1" stroke-dasharray="1.3 1.9" clip-path="url(#cBR)"/>
<polyline points="368,528.73 369.91,528.99 371.82,529.21 373.73,529.42 375.63,529.59 377.54,529.75 379.45,529.88 381.36,529.98 383.27,530.07 385.18,530.14 387.09,530.19 389,530.22 390.9,530.23 392.81,530.22 394.72,530.21 396.63,530.17 398.54,530.13 400.45,530.07 402.36,529.99 404.27,529.91 406.17,529.82 408.08,529.72 409.99,529.6 411.9,529.48 413.81,529.36 415.72,529.22 417.63,529.08 419.54,528.93 421.44,528.78 423.35,528.62 425.26,528.46 427.17,528.29 429.08,528.12 430.99,527.95 432.9,527.78 434.81,527.6 436.71,527.42 438.62,527.24 440.53,527.06 442.44,526.88 444.35,526.69 446.26,526.51 448.17,526.33 450.08,526.14 451.98,525.96 453.89,525.78 455.8,525.59 457.71,525.41 459.62,525.23 461.53,525.05 463.44,524.87 465.35,524.69 467.25,524.51 469.16,524.33 471.07,524.15 472.98,523.98 474.89,523.8 476.8,523.62 478.71,523.44 480.62,523.27 482.52,523.09 484.43,522.91 486.34,522.73 488.25,522.55 490.16,522.36 492.07,522.18 493.98,521.99 495.89,521.8 497.79,521.61 499.7,521.41 501.61,521.21 503.52,521 505.43,520.79 507.34,520.58 509.25,520.35 511.16,520.12 513.06,519.89 514.97,519.64 516.88,519.39 518.79,519.12 520.7,518.85 522.61,518.57 524.52,518.27 526.43,517.96 528.33,517.64 530.24,517.3 532.15,516.95 534.06,516.59 535.97,516.2 537.88,515.8 539.79,515.38 541.7,514.94 543.6,514.48 545.51,514 547.42,513.5 549.33,512.97 551.24,512.42 553.15,511.84 555.06,511.24 556.97,510.6 558.87,509.94 560.78,509.24 562.69,508.52 564.6,507.76 566.51,506.97 568.42,506.14 570.33,505.27 572.24,504.36 574.14,503.42 576.05,502.43 577.96,501.4 579.87,500.33 581.78,499.21 583.69,498.04 585.6,496.83 587.51,495.56 589.41,494.24 591.32,492.87 593.23,491.45 595.14,489.96 597.05,488.42 598.96,486.82 600.87,485.15 602.78,483.43 604.68,481.63 606.59,479.77 608.5,477.84 610.41,475.84 612.32,473.77 614.23,471.62 616.14,469.39 618.05,467.09 619.95,464.7 621.86,462.24 623.77,459.69 625.68,457.05 627.59,454.32 629.5,451.5 631.41,448.59 633.32,445.58 635.22,442.48 637.13,439.27 639.04,435.97 640.95,432.56 642.86,429.04 644.77,425.42 646.68,421.68 648.59,417.84 650.49,413.87 652.4,409.79 654.31,405.59 656.22,401.26 658.13,396.81 660.04,392.24 661.95,387.53 663.86,382.69 665.76,377.71 667.67,372.6 669.58,367.34 671.49,361.94" fill="none" stroke="#3444c8" stroke-width="1" clip-path="url(#cBR)"/>
<polyline points="368,528.31 369.91,528.68 371.82,529.01 373.73,529.31 375.63,529.57 377.54,529.8 379.45,530 381.36,530.16 383.27,530.3 385.18,530.41 387.09,530.5 389,530.56 390.9,530.59 392.81,530.61 394.72,530.6 396.63,530.58 398.54,530.54 400.45,530.48 402.36,530.4 404.27,530.31 406.17,530.2 408.08,530.08 409.99,529.95 411.9,529.81 413.81,529.66 415.72,529.5 417.63,529.33 419.54,529.15 421.44,528.97 423.35,528.78 425.26,528.58 427.17,528.38 429.08,528.18 430.99,527.97 432.9,527.76 434.81,527.55 436.71,527.33 438.62,527.12 440.53,526.9 442.44,526.68 444.35,526.47 446.26,526.25 448.17,526.04 450.08,525.82 451.98,525.61 453.89,525.4 455.8,525.19 457.71,524.98 459.62,524.77 461.53,524.57 463.44,524.37 465.35,524.17 467.25,523.97 469.16,523.78 471.07,523.58 472.98,523.39 474.89,523.21 476.8,523.02 478.71,522.83 480.62,522.65 482.52,522.46 484.43,522.28 486.34,522.1 488.25,521.92 490.16,521.74 492.07,521.55 493.98,521.37 495.89,521.18 497.79,520.99 499.7,520.8 501.61,520.61 503.52,520.41 505.43,520.21 507.34,520 509.25,519.79 511.16,519.57 513.06,519.34 514.97,519.1 516.88,518.86 518.79,518.6 520.7,518.34 522.61,518.06 524.52,517.77 526.43,517.46 528.33,517.14 530.24,516.81 532.15,516.45 534.06,516.08 535.97,515.69 537.88,515.28 539.79,514.85 541.7,514.39 543.6,513.91 545.51,513.41 547.42,512.87 549.33,512.31 551.24,511.72 553.15,511.1 555.06,510.44 556.97,509.75 558.87,509.03 560.78,508.26 562.69,507.46 564.6,506.62 566.51,505.73 568.42,504.8 570.33,503.83 572.24,502.8 574.14,501.73 576.05,500.6 577.96,499.43 579.87,498.19 581.78,496.9 583.69,495.55 585.6,494.14 587.51,492.67 589.41,491.13 591.32,489.52 593.23,487.85 595.14,486.1 597.05,484.28 598.96,482.38 600.87,480.4 602.78,478.34 604.68,476.2 606.59,473.98 608.5,471.66 610.41,469.26 612.32,466.76 614.23,464.17 616.14,461.48 618.05,458.69 619.95,455.8 621.86,452.8 623.77,449.69 625.68,446.47 627.59,443.14 629.5,439.69 631.41,436.12 633.32,432.43 635.22,428.62 637.13,424.68 639.04,420.6 640.95,416.4 642.86,412.05 644.77,407.57 646.68,402.94 648.59,398.17 650.49,393.25 652.4,388.18 654.31,382.95 656.22,377.56 658.13,372.01 660.04,366.3 661.95,360.41 663.86,354.36 665.76,348.13 667.67,341.72 669.58,335.13 671.49,328.36" fill="none" stroke="#e65050" stroke-width="1" stroke-dasharray="6 3" clip-path="url(#cBR)"/>
<path d="M368 525.55L371.41 531.13L364.59 531.13Z" fill="none" stroke="#e08080" stroke-width="0.9"/>
<path d="M414.71 524.98L418.12 530.56L411.3 530.56Z" fill="none" stroke="#e08080" stroke-width="0.9"/>
<path d="M465.9 521.52L469.31 527.1L462.49 527.1Z" fill="none" stroke="#e08080" stroke-width="0.9"/>
<path d="M512.61 516.34L516.02 521.92L509.2 521.92Z" fill="none" stroke="#e08080" stroke-width="0.9"/>
<path d="M563.8 499.94L567.21 505.52L560.39 505.52Z" fill="none" stroke="#e08080" stroke-width="0.9"/>
<path d="M610.51 470.02L613.92 475.6L607.1 475.6Z" fill="none" stroke="#e08080" stroke-width="0.9"/>
<path d="M661.7 356.93L665.11 362.51L658.29 362.51Z" fill="none" stroke="#e08080" stroke-width="0.9"/>
<polygon points="368,525.75 367.23,527.74 365.1,527.86 366.76,529.2 366.21,531.26 368,530.1 369.79,531.26 369.24,529.2 370.9,527.86 368.77,527.74" fill="none" stroke="#1a68c0" stroke-width="1.0" stroke-linejoin="miter"/>
<polygon points="414.71,525.18 413.94,527.17 411.81,527.28 413.47,528.63 412.92,530.69 414.71,529.53 416.5,530.69 415.95,528.63 417.61,527.28 415.48,527.17" fill="none" stroke="#1a68c0" stroke-width="1.0" stroke-linejoin="miter"/>
<polygon points="465.9,522.3 465.13,524.29 463,524.4 464.66,525.75 464.11,527.81 465.9,526.65 467.69,527.81 467.14,525.75 468.8,524.4 466.67,524.29" fill="none" stroke="#1a68c0" stroke-width="1.0" stroke-linejoin="miter"/>
<polygon points="512.61,517.7 511.84,519.69 509.71,519.8 511.37,521.14 510.82,523.2 512.61,522.05 514.4,523.2 513.85,521.14 515.51,519.8 513.38,519.69" fill="none" stroke="#1a68c0" stroke-width="1.0" stroke-linejoin="miter"/>
<polygon points="563.8,502.73 563.03,504.72 560.9,504.84 562.56,506.18 562.01,508.24 563.8,507.08 565.59,508.24 565.04,506.18 566.7,504.84 564.57,504.72" fill="none" stroke="#1a68c0" stroke-width="1.0" stroke-linejoin="miter"/>
<polygon points="610.51,473.38 609.74,475.37 607.61,475.49 609.27,476.83 608.72,478.89 610.51,477.73 612.3,478.89 611.75,476.83 613.41,475.49 611.28,475.37" fill="none" stroke="#1a68c0" stroke-width="1.0" stroke-linejoin="miter"/>
<polygon points="661.7,383.32 660.93,385.31 658.8,385.42 660.46,386.77 659.91,388.83 661.7,387.67 663.49,388.83 662.94,386.77 664.6,385.42 662.47,385.31" fill="none" stroke="#1a68c0" stroke-width="1.0" stroke-linejoin="miter"/>
<circle cx="368" cy="529.07" r="1.4" fill="#145a22"/>
<circle cx="414.71" cy="528.5" r="1.4" fill="#145a22"/>
<circle cx="465.9" cy="525.91" r="1.4" fill="#145a22"/>
<circle cx="512.61" cy="521.59" r="1.4" fill="#145a22"/>
<circle cx="563.8" cy="508.36" r="1.4" fill="#145a22"/>
<circle cx="610.51" cy="479" r="1.4" fill="#145a22"/>
<circle cx="661.7" cy="390.09" r="1.4" fill="#145a22"/>
<rect x="376.5" y="312.5" width="88" height="42" fill="#fff"/>
<path d="M376.5 312V355" stroke="#333" stroke-width="1"/>
<path d="M376 312.5H465" stroke="#222" stroke-width="1"/>
<path d="M464.5 312V355" stroke="#444" stroke-width="1"/>
<path d="M376 354.5H465" stroke="#333" stroke-width="1"/>
<path d="M395.3 317.45L398.71 323.03L391.89 323.03Z" fill="none" stroke="#e08080" stroke-width="0.9"/>
<text transform="translate(411.8 324) scale(0.94 1)" font-size="9.4">LDABoost.1</text>
<polygon points="395.3,330.95 394.53,332.94 392.4,333.06 394.06,334.4 393.51,336.46 395.3,335.31 397.09,336.46 396.54,334.4 398.2,333.06 396.07,332.94" fill="none" stroke="#1a68c0" stroke-width="1.0" stroke-linejoin="miter"/>
<text transform="translate(411.8 337.3) scale(0.94 1)" font-size="9.4">LDABoost</text>
<circle cx="395.3" cy="346.9" r="1.4" fill="#145a22"/>
<text transform="translate(411.8 350.5) scale(0.94 1)" font-size="9.4">LDABoost.2</text>
<text transform="translate(1.2 10.9) scale(0.91 1)" font-size="12.4" font-weight="bold" fill="#111">English Documents</text>
<text transform="translate(3.2 292.1) scale(0.91 1)" font-size="12.8" font-weight="bold" fill="#111">Chinese Documents</text>
</svg>
</body></html>
